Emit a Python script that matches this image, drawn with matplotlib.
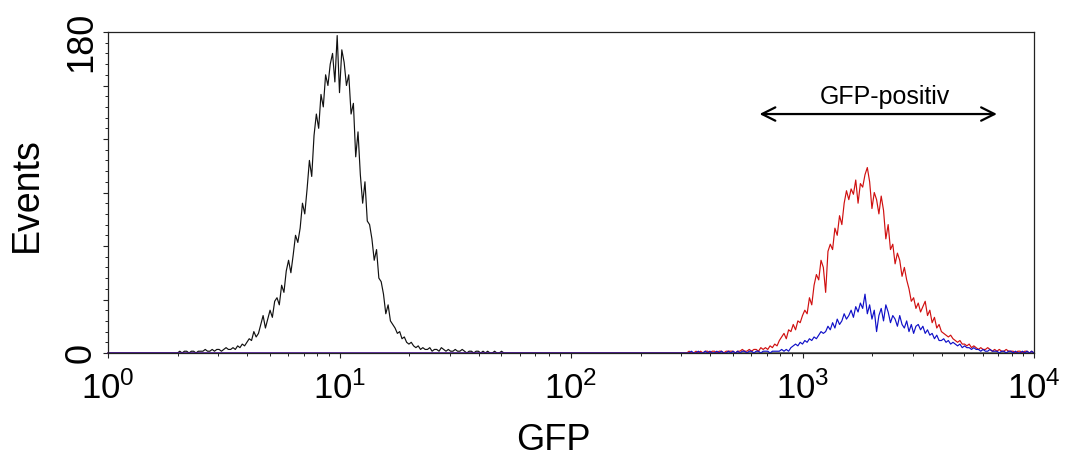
import numpy as np
import matplotlib.pyplot as plt
from matplotlib.ticker import FixedLocator, MultipleLocator, LogLocator, NullFormatter
from matplotlib.transforms import offset_copy

plt.rcParams['font.family'] = ['Liberation Sans', 'DejaVu Sans']
plt.rcParams['mathtext.fontset'] = 'custom'
plt.rcParams['mathtext.rm'] = 'Liberation Sans'
plt.rcParams['mathtext.it'] = 'Liberation Sans:italic'

# GFP channels, 100 per decade from 10^0 to 10^4
per_decade = 100
channels = np.logspace(0, 4, 4 * per_decade + 1)

# untransfected control
black_start = 30
black_counts = [
    0, 1, 0, 1, 1, 0, 1, 1, 0, 1,
    1, 1, 2, 1, 1, 2, 1, 2, 2, 1,
    2, 3, 2, 2, 3, 2, 4, 3, 5, 4,
    6, 8, 7, 12, 9, 11, 16, 21, 14, 19,
    24, 20, 29, 31, 27, 38, 34, 46, 52, 45,
    55, 66, 62, 70, 84, 78, 92, 108, 99, 122,
    134, 126, 145, 138, 156, 150, 162, 168, 152, 178,
    146, 170, 163, 150, 156, 134, 140, 110, 124, 100,
    84, 96, 74, 72, 64, 52, 58, 42, 40, 33,
    22, 27, 18, 16, 14, 11, 12, 8, 9, 6,
    5, 6, 4, 3, 4, 2, 3, 2, 2, 3,
    1, 2, 2, 1, 3, 2, 1, 2, 1, 1,
    2, 1, 1, 2, 1, 0, 1, 1, 0, 1,
    1, 0, 1, 0, 1, 0, 0, 1, 0, 0,
    1,
]

red_start = 250
red_counts = [
    0, 1, 0, 0, 1, 0, 1, 0, 1, 1,
    0, 1, 1, 0, 1, 1, 0, 1, 1, 1,
    1, 0, 1, 1, 2, 1, 1, 2, 1, 2,
    2, 1, 3, 2, 3, 2, 4, 3, 5, 4,
    7, 9, 11, 8, 13, 12, 16, 13, 18, 17,
    21, 24, 22, 31, 27, 38, 44, 41, 52, 48,
    34, 57, 61, 58, 70, 66, 77, 72, 84, 91,
    86, 92, 89, 97, 84, 95, 93, 100, 104, 96,
    81, 90, 86, 78, 88, 80, 64, 72, 58, 61,
    50, 56, 52, 43, 48, 41, 36, 29, 31, 25,
    28, 23, 26, 29, 21, 24, 17, 20, 14, 16,
    12, 11, 10, 9, 10, 8, 7, 6, 7, 5,
    5, 4, 5, 3, 4, 3, 2, 3, 2, 2,
    3, 2, 1, 2, 1, 2, 1, 1, 2, 1,
    1, 1, 0, 1, 1, 0, 1, 1, 0, 1,
    0,
]

blue_start = 250
blue_counts = [
    0, 0, 1, 0, 0, 1, 0, 0, 1, 0,
    1, 0, 0, 1, 0, 1, 0, 0, 1, 0,
    1, 0, 1, 0, 1, 1, 0, 1, 1, 0,
    1, 1, 0, 1, 1, 1, 0, 1, 1, 1,
    1, 2, 1, 2, 1, 3, 4, 5, 4, 6,
    5, 7, 6, 8, 7, 9, 8, 10, 12, 11,
    12, 15, 13, 17, 14, 19, 16, 18, 22, 19,
    21, 24, 20, 26, 23, 28, 25, 33, 22, 27,
    19, 24, 12, 21, 25, 18, 27, 23, 17, 21,
    19, 15, 21, 16, 14, 18, 12, 16, 11, 15,
    16, 13, 15, 11, 13, 10, 11, 8, 10, 7,
    7, 8, 6, 7, 5, 6, 5, 4, 5, 3,
    4, 3, 3, 2, 3, 2, 2, 1, 2, 1,
    1, 2, 1, 1, 1, 0, 1, 1, 0, 1,
    1, 0, 1, 0, 0, 1, 0, 1, 0, 1,
    0,
]

# GFP-positive gate
gate_low, gate_high = 652, 6918
gate_level = 134

x_ticks = [1, 10, 100, 1000, 10000]
x_labels = ['$10^{0}$', '$10^{1}$', '$10^{2}$', '$10^{3}$', '$10^{4}$']


def histogram(start, counts):
    h = np.zeros(len(channels))
    h[start:start + len(counts)] = counts
    return h


fig = plt.figure(figsize=(10.69, 4.57), dpi=100)
ax = fig.add_axes([108 / 1069, 1 - 353 / 457, 926 / 1069, 321 / 457])

ax.plot(channels, histogram(black_start, black_counts), color='#111111', lw=0.85, clip_on=False)
ax.plot(channels, histogram(red_start, red_counts), color='#d01010', lw=0.85, clip_on=False)
ax.plot(channels, histogram(blue_start, blue_counts), color='#1010c8', lw=0.85, clip_on=False)

ax.set_xscale('log')
ax.set_xlim(1, 10000)
ax.set_ylim(0, 180)

ax.xaxis.set_major_locator(FixedLocator(x_ticks))
ax.set_xticklabels(x_labels, fontsize=25)
ax.xaxis.set_minor_locator(LogLocator(base=10, subs=np.arange(2, 10)))
ax.xaxis.set_minor_formatter(NullFormatter())

ax.yaxis.set_major_locator(MultipleLocator(30))
ax.yaxis.set_minor_locator(MultipleLocator(6))
ax.set_yticks([0, 30, 60, 90, 120, 150, 180])
ax.set_yticklabels(['0', '', '', '', '', '', ''], fontsize=26, rotation=90, va='center')
# top label sits a little below its tick so it stays inside the figure
ax.text(0, 180, '180', rotation=90, ha='right', va='center', fontsize=26,
        transform=offset_copy(ax.get_yaxis_transform(), fig=fig, x=-8.3, y=-10, units='dots'))

ax.tick_params(axis='both', which='major', direction='out', length=3.5, width=0.8, colors='#222222')
ax.tick_params(axis='both', which='minor', direction='out', length=2.5, width=0.7, colors='#222222')
ax.tick_params(axis='y', which='major', pad=3.5)
ax.tick_params(axis='x', which='major', pad=9.5)
ax.tick_params(labelcolor='black')
for s in ax.spines.values():
    s.set_linewidth(0.9)
    s.set_color('#222222')

fig.text(27 / 1069, 1 - 195 / 457, 'Events', rotation=90, ha='center', va='center', fontsize=27)
fig.text(553 / 1069, 1 - 440 / 457, 'GFP', ha='center', va='center', fontsize=26)

ax.annotate('', xy=(gate_high, gate_level), xytext=(gate_low, gate_level),
            arrowprops=dict(arrowstyle='<->', lw=1.6, color='black',
                            mutation_scale=24, shrinkA=0, shrinkB=0))
ax.text(np.sqrt(gate_low * gate_high) * 1.07, gate_level + 5.5, 'GFP-positiv',
        ha='center', va='baseline', fontsize=18)

fig.savefig('out.png', dpi=100)
